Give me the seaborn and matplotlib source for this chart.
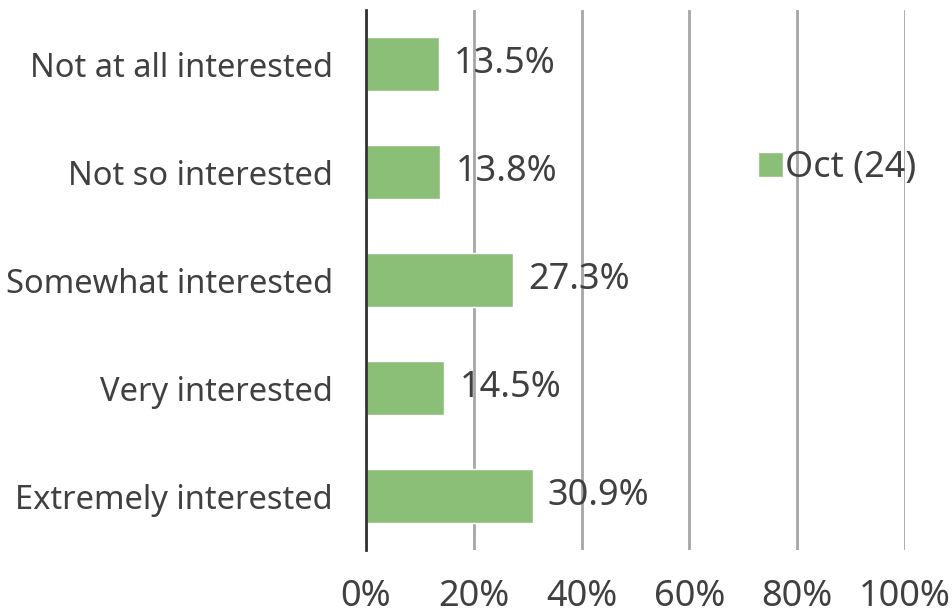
import pandas as pd
import matplotlib.pyplot as plt
import matplotlib.ticker as mticker
import seaborn as sns

# ── Data ────────────────────────────────────────────────────────
categories = ["Not at all interested", "Not so interested", "Somewhat interested",
              "Very interested", "Extremely interested"]
values = [13.5, 13.8, 27.3, 14.5, 30.9]
series_name = "Oct (24)"
x_ticks = [0, 20, 40, 60, 80, 100]

# ── Style ───────────────────────────────────────────────────────
sns.set_theme(style="white")
plt.rcParams["font.family"] = ["Noto Sans", "DejaVu Sans"]
TEXT = "#404040"
GREEN = "#8BBF78"
FS = 26
FS_CAT = 23.5

df = pd.DataFrame({"category": categories, "value": values})

fig = plt.figure(figsize=(9.52, 6.14), dpi=100)
ax = fig.add_axes([0.3845, 0.1042, 0.5661, 0.8795])

sns.barplot(data=df, x="value", y="category", color=GREEN, width=0.5,
            saturation=1, label=series_name, ax=ax, zorder=3)

ax.bar_label(ax.containers[0], fmt="%.1f%%", padding=11, fontsize=FS, color=TEXT)

ax.set_xlim(0, 100)
ax.set_ylim(4.5, -0.5)
ax.set_xticks(x_ticks)
ax.xaxis.set_major_formatter(mticker.FuncFormatter(lambda v, _: f"{v:.0f}%"))
ax.grid(axis="x", color="#a6a6a6", linewidth=2, zorder=0)
ax.set_axisbelow(True)
ax.set_xlabel("")
ax.set_ylabel("")
ax.tick_params(axis="x", length=0, pad=21, labelsize=FS, labelcolor=TEXT)
ax.tick_params(axis="y", length=0, pad=24, labelsize=FS_CAT, labelcolor=TEXT)

for side in ["top", "right", "bottom"]:
    ax.spines[side].set_visible(False)
ax.spines["left"].set_color("#333333")
ax.spines["left"].set_linewidth(2)
ax.spines["left"].set_zorder(4)

ax.legend(loc="center left", bbox_to_anchor=(0.728, 0.707), frameon=False,
          fontsize=FS, handlelength=0.68, handleheight=0.68, handletextpad=0.05,
          borderpad=0, borderaxespad=0, labelcolor=TEXT)

fig.savefig("out.png", dpi=100)
